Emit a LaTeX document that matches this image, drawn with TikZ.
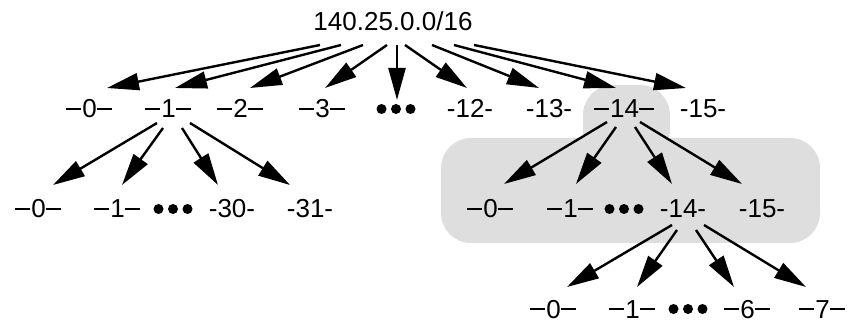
\documentclass[tikz,border=0pt]{standalone}
\usepackage{fontspec}
\setmainfont{Liberation Sans}
\usetikzlibrary{arrows.meta}
\definecolor{boxgray}{HTML}{DEDEDE}
\newcommand{\dsh}{\rule[7.7pt]{15.5pt}{2.6pt}}
\tikzset{
->,
>={Triangle[length=32pt,width=17pt]},
every node/.style={font=\fontsize{26}{30}\selectfont, inner sep=0pt, text height=18pt, text depth=0pt},
dots/.style={minimum width=40pt},
}

\begin{document}
\begin{tikzpicture}[x=1pt,y=-1pt,line width=2.4pt]
        \useasboundingbox (0,0) rectangle (848,320);
        % shaded part of the tree
        \fill[boxgray, rounded corners=30pt] (583,85) rectangle (670,160);
        \fill[boxgray, rounded corners=30pt] (441,138) rectangle (820,243);

        \node (root) at (393,22) {140.25.0.0/16};

        \node (a0) at (89,109) {\dsh\kern1pt0\dsh};
        \node (a1) at (168,109) {\dsh\kern1pt1\dsh};
        \node (a2) at (240,109) {\dsh\kern1pt2\dsh};
        \node (a3) at (322,109) {\dsh\kern1pt3\dsh};
        \node[dots] (ad) at (396,109) {};
        \node (a12) at (470,109) {-12-};
        \node (a13) at (549,109) {-13-};
        \node (a14) at (624,109) {\dsh\kern1pt14\dsh};
        \node (a15) at (703,109) {-15-};

        \node (b0) at (38,209) {\dsh\kern1pt0\dsh};
        \node (b1) at (117,209) {\dsh\kern1pt1\dsh};
        \node[dots] (bd) at (173,209) {};
        \node (b30) at (232,209) {-30-};
        \node (b31) at (310,209) {-31-};

        \node (c0) at (490,209) {\dsh\kern1pt0\dsh};
        \node (c1) at (570,209) {\dsh\kern1pt1\dsh};
        \node[dots] (cd) at (624,209) {};
        \node (c14) at (683,209) {-14-};
        \node (c15) at (762,209) {-15-};

        \node (d0) at (553,309) {\dsh\kern1pt0\dsh};
        \node (d1) at (632,309) {\dsh\kern1pt1\dsh};
        \node[dots] (dd) at (688,309) {};
        \node (d6) at (747,309) {\dsh\kern1pt6\dsh};
        \node (d7) at (822,309) {\dsh\kern1pt7\dsh};

        \foreach \n in {ad,bd,cd,dd}
            \foreach \dx in {-14.5,0,14.5}
                \fill ([shift={(\dx,0)}]\n.center) circle (5pt);

        \foreach \c/\sx/\tx/\ty in {a0/-73/18/-21, a1/-52/7/-21, a2/-30/10/-21,
                a3/-6/3/-21, ad/4/1/-9, a12/12/-3/-21, a13/39/-10/-21,
                a14/61/-8/-21, a15/81/-17/-21}
            \draw ([shift={(\sx,23)}]root.center) -- ([shift={(\tx,\ty)}]\c.center);

        \foreach \p/\c/\sx/\sy/\tx/\ty in {a1/b0/-11/14/15/-24, a1/b1/-5/19/5/-24,
                a1/b30/14/19/-14/-24, a1/b31/22/14/-20/-24,
                a14/c0/-17/13/14/-25, a14/c1/-8/18/6/-25,
                a14/c14/11/18/-11/-25, a14/c15/16/13/-20/-25,
                c14/d0/-11/16/14/-22, c14/d1/-6/21/5/-22,
                c14/d6/13/21/-13/-22, c14/d7/21/16/-16/-22}
            \draw ([shift={(\sx,\sy)}]\p.center) -- ([shift={(\tx,\ty)}]\c.center);
    \end{tikzpicture}
\end{document}
